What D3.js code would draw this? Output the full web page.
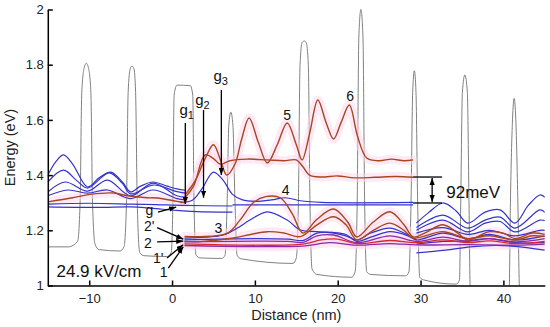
<!DOCTYPE html>
<html>
<head>
<meta charset="utf-8">
<script src="https://d3js.org/d3.v7.min.js"></script>
<style>
  body { margin: 0; background: #fff; }
  svg { display: block; font-family: "Liberation Sans", Arial, sans-serif; }
</style>
</head>
<body>
<script>
// Tick values for both axes
var xTicks = [-10, 0, 10, 20, 30, 40];
var yTicks = [1, 1.2, 1.4, 1.6, 1.8, 2];

// Conduction band profile [distance nm, energy eV]
var potential = [[-15,1.14],[-12.5,1.14],[-11.4,1.16],[-11.1,1.3],[-10.9,1.7],[-10.6,1.79],[-10.35,1.805],[-10.1,1.79],[-9.8,1.7],[-9.6,1.3],[-9.3,1.15],[-8.8,1.13],[-6.3,1.125],[-5.8,1.14],[-5.5,1.3],[-5.3,1.7],[-5.05,1.785],[-4.85,1.795],[-4.6,1.785],[-4.4,1.7],[-4.2,1.3],[-3.9,1.12],[-3.4,1.108],[-0.6,1.105],[-0.1,1.12],[0.1,1.3],[0.25,1.69],[0.6,1.726],[2.2,1.724],[2.5,1.69],[2.65,1.3],[2.9,1.11],[3.4,1.1],[6.0,1.098],[6.4,1.11],[6.65,1.3],[6.85,1.58],[7.1,1.628],[7.35,1.58],[7.6,1.3],[7.85,1.11],[8.3,1.097],[14.6,1.08],[15.0,1.1],[15.25,1.3],[15.45,1.8],[15.7,1.88],[15.95,1.886],[16.2,1.88],[16.45,1.8],[16.65,1.3],[16.9,1.06],[17.5,1.04],[21.7,1.03],[22.1,1.05],[22.35,1.3],[22.55,1.9],[22.8,2.0],[23.05,1.9],[23.25,1.3],[23.5,1.05],[24,1.04],[28.2,1.035],[28.6,1.05],[28.85,1.3],[29.05,1.7],[29.25,1.778],[29.45,1.7],[29.65,1.3],[29.9,1.03],[30.4,1.02],[34.3,1.005],[34.7,1.02],[34.85,1.3],[35.05,1.7],[35.35,1.763],[35.65,1.7],[35.85,1.3],[36.0,0.98],[36.5,0.9],[40.3,0.9],[40.7,0.98],[40.85,1.3],[41.1,1.6],[41.3,1.678],[41.5,1.6],[41.75,1.3],[41.95,0.98],[42.5,0.9],[45,0.9]];

// Blue states (left superlattice)
var blueL1 = [[-15,1.40],[-14,1.45],[-13.1,1.473],[-12,1.44],[-10.2,1.357],[-8.8,1.39],[-7.4,1.411],[-6,1.375],[-5.0,1.339],[-3.8,1.36],[-2.3,1.375],[-0.6,1.36],[0.6,1.35],[1.6,1.345]];
var blueL2 = [[-15,1.375],[-13.1,1.418],[-11.5,1.38],[-10.2,1.353],[-7.6,1.408],[-6,1.37],[-5.0,1.332],[-2.3,1.364],[0.6,1.34],[1.6,1.335]];
var blueL3 = [[-15,1.339],[-12.9,1.375],[-10.2,1.342],[-7.8,1.382],[-5.0,1.325],[-2.3,1.371],[0.6,1.325],[1.6,1.32]];
var blueL4 = [[-15,1.325],[-12.6,1.346],[-10.2,1.335],[-7.8,1.346],[-5.0,1.315],[-2.3,1.346],[0.6,1.315],[1.6,1.31]];
var blueG1 = [[-15,1.295],[-10,1.298],[-5,1.295],[-2,1.293],[1.5,1.29],[7.3,1.288]];
var blueG2 = [[-15,1.285],[-9,1.283],[-5,1.285],[-2.5,1.28],[0.5,1.272],[3,1.268],[7.3,1.266]];
// Blue states (active region)
var blue4 = [[1.0,1.30],[2.5,1.31],[3.6,1.35],[5.0,1.411],[6.2,1.38],[7.3,1.33],[8.5,1.31],[10,1.305],[12,1.31],[13.7,1.318],[15.5,1.307],[18,1.301],[29.1,1.301]];
var blueFlat = [[7.3,1.292],[29.1,1.292]];
var blue3 = [[1.5,1.172],[4,1.175],[6.2,1.183],[8,1.21],[9.4,1.237],[11.5,1.267],[13.9,1.237],[15.5,1.201],[17.5,1.195],[19.5,1.19],[21,1.18],[22.3,1.165],[24,1.19],[26.3,1.208],[28,1.19],[29.5,1.165]];
var blue2p = [[1.5,1.165],[10,1.17],[14,1.168],[15.8,1.163],[17.5,1.19],[19.5,1.192],[21,1.185],[22.3,1.16],[24,1.175],[26.3,1.195],[28.5,1.18],[29.5,1.165],[32.7,1.19],[35.7,1.17],[38.3,1.185],[41.4,1.165],[45,1.18]];
// Blue states (right superlattice)
var blueR1 = [[29.5,1.226],[31,1.265],[32.7,1.299],[34.3,1.27],[35.7,1.226],[37.8,1.266],[39.6,1.274],[41.4,1.226],[43,1.29],[44.4,1.328],[45,1.32]];
var blueR2 = [[29.5,1.21],[32.7,1.255],[35.7,1.208],[37.8,1.237],[39.6,1.248],[41.4,1.208],[44.4,1.274],[45,1.265]];
var blueR3 = [[29.5,1.2],[32.7,1.237],[35.7,1.194],[37.8,1.226],[39.6,1.232],[41.4,1.194],[44.4,1.237],[45,1.235]];
var blueR4 = [[29.5,1.19],[32.7,1.21],[35.7,1.185],[38.3,1.2],[41.4,1.18],[44.4,1.2],[45,1.2]];
var blueR5 = [[29.5,1.15],[32.7,1.16],[35.7,1.162],[38.3,1.17],[41.4,1.155],[45,1.155]];
var blueR6 = [[29.5,1.118],[33,1.128],[36,1.14],[39,1.145],[41.4,1.142],[45,1.128]];

// Red / brown states
var redLeft = [[-15,1.303],[-12,1.318],[-9.9,1.33],[-7,1.335],[-5.4,1.325],[-3,1.318],[-1.8,1.317],[0.6,1.305],[1.6,1.30]];
var red6 = [[1.6,1.33],[2.8,1.38],[4.0,1.46],[5.0,1.51],[5.9,1.45],[6.6,1.40],[7.6,1.44],[8.4,1.53],[9.3,1.607],[10.4,1.52],[11.5,1.444],[12.7,1.51],[13.9,1.589],[15,1.51],[15.7,1.455],[16.6,1.55],[17.6,1.672],[18.6,1.59],[19.5,1.531],[20.4,1.59],[21.4,1.654],[22.4,1.54],[23.5,1.462],[25,1.452],[26.5,1.458],[28,1.452],[29.1,1.455]];
var red5 = [[1.6,1.32],[2.6,1.36],[4.0,1.473],[5.0,1.46],[5.8,1.44],[7.0,1.452],[9,1.458],[11.5,1.455],[13.5,1.452],[15.0,1.455],[15.8,1.43],[16.6,1.40],[18,1.393],[20,1.397],[22,1.39],[24.5,1.392],[27,1.395],[29.1,1.392]];
var red3a = [[1.5,1.178],[3.4,1.177],[6.7,1.19],[8.2,1.237],[9.8,1.30],[11.3,1.322],[13.1,1.317],[14.5,1.26],[15.8,1.19],[17.5,1.24],[19.5,1.277],[21.2,1.23],[22.3,1.176],[24.3,1.23],[26.3,1.267],[28,1.22],[29.1,1.176],[30.5,1.19],[32.7,1.22],[34.5,1.19],[35.7,1.165],[38.3,1.195],[40,1.19],[41.4,1.17],[43.5,1.19],[45,1.185]];
var red3b = [[1.5,1.16],[3.4,1.159],[7.4,1.172],[9.5,1.185],[11.5,1.195],[13.5,1.19],[15.5,1.177],[17.5,1.22],[19.5,1.249],[21,1.22],[22.3,1.165],[24.3,1.2],[26.3,1.226],[28,1.2],[29.1,1.172],[32.7,1.195],[35.7,1.17],[38.3,1.18],[41.4,1.165],[43.5,1.18],[45,1.178]];
var red1p = [[1.5,1.151],[15.8,1.15],[18,1.165],[20,1.168],[22.3,1.152],[26.3,1.163],[29.5,1.155],[32.7,1.165],[35.7,1.155],[38.3,1.162],[41.4,1.152],[45,1.16]];
// Purple states
var purple2 = [[1.5,1.158],[14,1.16],[15.8,1.156],[17.5,1.18],[19.5,1.183],[22.3,1.155],[26.3,1.18],[29.5,1.16],[32.7,1.175],[35.7,1.16],[38.3,1.17],[41.4,1.158],[45,1.17]];
var purple1 = [[1.5,1.145],[15.8,1.143],[19,1.155],[22.3,1.146],[26.3,1.152],[29.5,1.147],[35.7,1.148],[41.4,1.146],[45,1.15]];

var blueStates = [blueL1, blueL2, blueL3, blueL4, blueG1, blueG2, blue4, blueFlat, blue3, blue2p,
                  blueR1, blueR2, blueR3, blueR4, blueR5, blueR6];
var redStates = [redLeft, red6, red5, red3a, red3b];
var purpleStates = [purple2, purple1];

// Annotations, in data units
var arrows = [
  [[1.6,1.589],[1.6,1.295]],   // g1
  [[3.8,1.636],[3.8,1.318]],   // g2
  [[5.95,1.708],[5.95,1.40]],  // g3
  [[-1.7,1.266],[0.5,1.284]],  // g
  [[-1.8,1.21],[1.35,1.168]],  // 2'
  [[-1.8,1.158],[1.35,1.161]], // 2
  [[-0.6,1.10],[1.35,1.148]],  // 1'
  [[-0.45,1.063],[1.35,1.14]]  // 1
];
var labels = [
  {t: "g", sub: "1", x: 0.9, y: 1.618, anchor: "start"},
  {t: "g", sub: "2", x: 2.8, y: 1.654, anchor: "start"},
  {t: "g", sub: "3", x: 5.0, y: 1.741, anchor: "start"},
  {t: "5", x: 13.9, y: 1.60, anchor: "middle"},
  {t: "6", x: 21.5, y: 1.668, anchor: "middle"},
  {t: "4", x: 13.7, y: 1.328, anchor: "middle"},
  {t: "3", x: 5.6, y: 1.19, anchor: "middle"},
  {t: "g", x: -3.2, y: 1.254, anchor: "start"},
  {t: "2'", x: -3.4, y: 1.198, anchor: "start"},
  {t: "2", x: -3.4, y: 1.137, anchor: "start"},
  {t: "1'", x: -2.3, y: 1.083, anchor: "start"},
  {t: "1", x: -1.5, y: 1.031, anchor: "start"}
];
var splitLines = [[29.1, 32.6, 1.393], [29.1, 32.6, 1.299]];

(function(){
  var width = 550, height = 327;
  var svg = d3.select("body").append("svg")
      .attr("width", width).attr("height", height);

  var x = d3.scaleLinear().domain([-15, 45]).range([47.8, 544.8]);
  var y = d3.scaleLinear().domain([1, 2]).range([285.5, 9.5]);

  svg.append("defs").append("clipPath").attr("id", "plot")
    .append("rect").attr("x", x(-15)).attr("y", y(2) - 2)
    .attr("width", x(45) - x(-15)).attr("height", y(1) - y(2) + 2);

  var marker = svg.select("defs").append("marker")
      .attr("id", "arrow").attr("viewBox", "0 0 8 6")
      .attr("refX", 8).attr("refY", 3)
      .attr("markerWidth", 7).attr("markerHeight", 5.5)
      .attr("markerUnits", "userSpaceOnUse")
      .attr("orient", "auto-start-reverse");
  marker.append("path").attr("d", "M0,0 L8,3 L0,6 Z").attr("fill", "#000");

  var plot = svg.append("g").attr("clip-path", "url(#plot)");

  // Potential profile
  var vline = d3.line().x(d => x(d[0])).y(d => y(d[1])).curve(d3.curveMonotoneX);
  plot.append("path").datum(potential)
    .attr("d", vline).attr("fill", "none")
    .attr("stroke", "#808080").attr("stroke-width", 1);

  var wline = d3.line().x(d => x(d[0])).y(d => y(d[1])).curve(d3.curveCatmullRom.alpha(0.5));

  // Pink shading under the red states
  plot.selectAll(".glow").data(redStates.concat([red1p, purple2, purple1]))
    .enter().append("path").attr("class", "glow")
    .attr("d", wline).attr("fill", "none")
    .attr("stroke", "#fcd6ee").attr("stroke-width", 9)
    .attr("stroke-opacity", 0.5).attr("stroke-linecap", "round");

  plot.selectAll(".blue").data(blueStates)
    .enter().append("path").attr("class", "blue")
    .attr("d", wline).attr("fill", "none")
    .attr("stroke", "#3434cc").attr("stroke-width", 1.2);

  plot.selectAll(".purple").data(purpleStates)
    .enter().append("path").attr("class", "purple")
    .attr("d", wline).attr("fill", "none")
    .attr("stroke", "#8a2aa8").attr("stroke-width", 1.3);

  plot.append("path").datum(red1p)
    .attr("d", wline).attr("fill", "none")
    .attr("stroke", "#d8282e").attr("stroke-width", 1.3);

  plot.selectAll(".red").data(redStates)
    .enter().append("path").attr("class", "red")
    .attr("d", wline).attr("fill", "none")
    .attr("stroke", "#a8461e").attr("stroke-width", 1.4);

  // Axes
  var xAxis = d3.axisBottom(x).tickValues(xTicks).tickSizeInner(-5).tickSizeOuter(0).tickPadding(8);
  var yAxis = d3.axisLeft(y).tickValues(yTicks).tickSizeInner(-5).tickSizeOuter(0).tickPadding(4)
      .tickFormat(d => String(+d.toFixed(1)));

  var gx = svg.append("g").attr("transform", "translate(0," + y(1) + ")").call(xAxis);
  var gy = svg.append("g").attr("transform", "translate(" + x(-15) + ",0)").call(yAxis);
  [gx, gy].forEach(function(g){
    g.selectAll("path, line").attr("stroke", "#000").attr("stroke-width", 1.5);
    g.selectAll("text").attr("font-size", 13).attr("fill", "#222")
      .attr("font-family", "'Liberation Sans', Arial, sans-serif");
  });

  svg.append("text").attr("x", x(15)).attr("y", 320)
    .attr("text-anchor", "middle").attr("font-size", 14.5).attr("fill", "#222")
    .text("Distance (nm)");
  svg.append("text").attr("transform", "translate(15," + y(1.5) + ") rotate(-90)")
    .attr("text-anchor", "middle").attr("font-size", 14.5).attr("fill", "#222")
    .text("Energy (eV)");

  // Annotation arrows
  svg.selectAll(".arr").data(arrows).enter().append("line").attr("class", "arr")
    .attr("x1", d => x(d[0][0])).attr("y1", d => y(d[0][1]))
    .attr("x2", d => x(d[1][0])).attr("y2", d => y(d[1][1]))
    .attr("stroke", "#000").attr("stroke-width", 1.3)
    .attr("marker-end", "url(#arrow)");

  // 92 meV splitting marker
  svg.selectAll(".split").data(splitLines).enter().append("line").attr("class", "split")
    .attr("x1", d => x(d[0])).attr("x2", d => x(d[1]))
    .attr("y1", d => y(d[2])).attr("y2", d => y(d[2]))
    .attr("stroke", "#000").attr("stroke-width", 1.3);
  svg.append("line")
    .attr("x1", x(31.4)).attr("x2", x(31.4))
    .attr("y1", y(1.393) + 1).attr("y2", y(1.299) - 1)
    .attr("stroke", "#000").attr("stroke-width", 1.3)
    .attr("marker-start", "url(#arrow)").attr("marker-end", "url(#arrow)");
  svg.append("text").attr("x", x(33.1)).attr("y", y(1.317))
    .attr("font-size", 17).attr("fill", "#111").text("92meV");

  svg.append("text").attr("x", x(-13.95)).attr("y", y(1.031))
    .attr("font-size", 17).attr("fill", "#111").text("24.9 kV/cm");

  var lab = svg.selectAll(".lab").data(labels).enter().append("text").attr("class", "lab")
    .attr("x", d => x(d.x)).attr("y", d => y(d.y))
    .attr("text-anchor", d => d.anchor)
    .attr("font-size", d => d.sub ? 15 : 14).attr("fill", "#111");
  lab.append("tspan").text(d => d.t);
  lab.filter(d => d.sub).append("tspan")
    .attr("dy", 4).attr("font-size", 11).text(d => d.sub);
})();
</script>
</body>
</html>
